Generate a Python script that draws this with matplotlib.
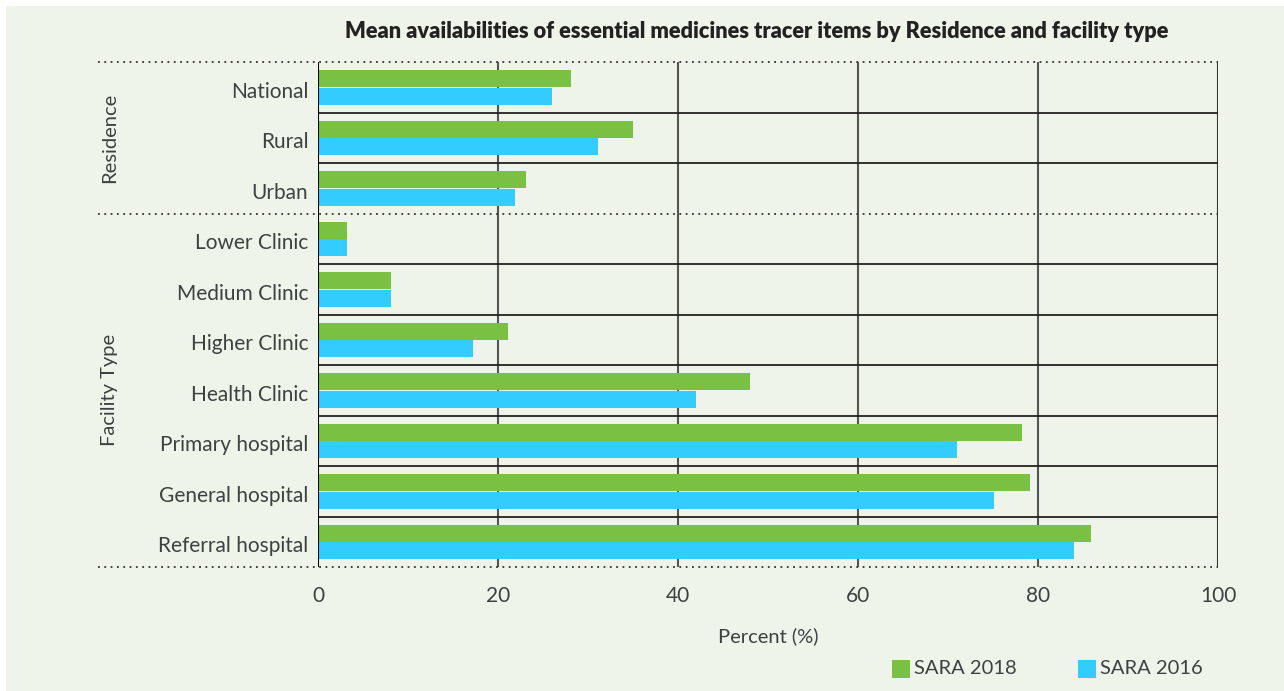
import matplotlib
matplotlib.use("Agg")
import matplotlib.pyplot as plt
from matplotlib.patches import Rectangle
from matplotlib.transforms import blended_transform_factory

plt.rcParams["font.family"] = ["Lato", "DejaVu Sans"]

# Data
categories = ["National", "Rural", "Urban",
              "Lower Clinic", "Medium Clinic", "Higher Clinic", "Health Clinic",
              "Primary hospital", "General hospital", "Referral hospital"]
sara_2018 = [28.1, 35.0, 23.1, 3.2, 8.1, 21.1, 48.0, 78.2, 79.1, 85.9]
sara_2016 = [26.0, 31.1, 21.9, 3.2, 8.1, 17.2, 42.0, 71.0, 75.1, 84.0]
groups = [("Residence", 0, 3), ("Facility Type", 3, 10)]
x_ticks = [0, 20, 40, 60, 80, 100]

GREEN = "#7AC143"
BLUE = "#33CCFF"
BG = "#EEF4E9"
TXT = "#3c4242"

W, H = 1284, 691
fig = plt.figure(figsize=(W / 100, H / 100), dpi=100)
fig.patch.set_facecolor("white")
fig.add_artist(Rectangle((6 / W, 0), 1, 1 - 6 / H, transform=fig.transFigure,
                         facecolor=BG, edgecolor="none", zorder=-10))

ax_l, ax_r, ax_t, ax_b = 318, 1218, 62, 567
ax = fig.add_axes([ax_l / W, 1 - ax_b / H, (ax_r - ax_l) / W, (ax_b - ax_t) / H])
ax.set_facecolor("none")

n = len(categories)
rows = list(range(n))
bar_h = 0.335
ax.barh([r + 0.33 for r in rows], sara_2018, height=bar_h, color=GREEN, zorder=3)
ax.barh([r + 0.68 for r in rows], sara_2016, height=bar_h, color=BLUE, zorder=3)

ax.set_xlim(0, 100)
ax.set_ylim(n, 0)

# vertical grid
for xv in x_ticks[1:-1]:
    ax.axvline(xv, color="#555555", lw=1.5, zorder=1)
ax.axvline(100, color="#333333", lw=1.5, zorder=1)
ax.axvline(0, color="black", lw=1.5, zorder=4)

# row separators within groups, dotted lines between groups
bounds = sorted({g[1] for g in groups} | {g[2] for g in groups})
for r in range(1, n):
    if r not in bounds:
        ax.axhline(r, color="#222222", lw=1.3, zorder=2)
trans = blended_transform_factory(ax.transAxes, ax.transData)
left_ext = (98 - ax_l) / (ax_r - ax_l)
for b in bounds:
    ax.plot([left_ext, 1.0], [b, b], transform=trans, color="#333333",
            lw=1.3, linestyle=(0, (1, 2.5)), clip_on=False, zorder=5)

for s in ax.spines.values():
    s.set_visible(False)

ax.set_yticks([r + 0.55 for r in rows])
ax.set_yticklabels(categories, fontsize=15, color=TXT)
ax.tick_params(axis="y", length=0, pad=7)
ax.set_xticks(x_ticks)
ax.set_xticklabels([str(v) for v in x_ticks], fontsize=15, color=TXT)
ax.tick_params(axis="x", length=0, pad=14)

# group labels
for name, a, b in groups:
    yc = ax_t + (a + b) / 2 / n * (ax_b - ax_t)
    fig.text(110 / W, 1 - yc / H, name, rotation=90, ha="center", va="center",
             fontsize=14.5, color=TXT)

fig.text(768 / W, 1 - 636 / H, "Percent (%)", ha="center", va="center",
         fontsize=14.5, color=TXT)

fig.text(757 / W, 1 - 31 / H,
         "Mean availabilities of essential medicines tracer items by Residence and facility type",
         ha="center", va="center", fontsize=15.7, fontweight="heavy", color="#222222")

# legend
for x0, col, lab in [(892, GREEN, "SARA 2018"), (1078, BLUE, "SARA 2016")]:
    fig.add_artist(Rectangle((x0 / W, 1 - 678 / H), 18 / W, 18 / H,
                             transform=fig.transFigure, facecolor=col, edgecolor="none"))
    fig.text((x0 + 22) / W, 1 - 669 / H, lab, ha="left", va="center",
             fontsize=14.5, color=TXT)

fig.savefig("out.png", dpi=100, facecolor=fig.get_facecolor())
